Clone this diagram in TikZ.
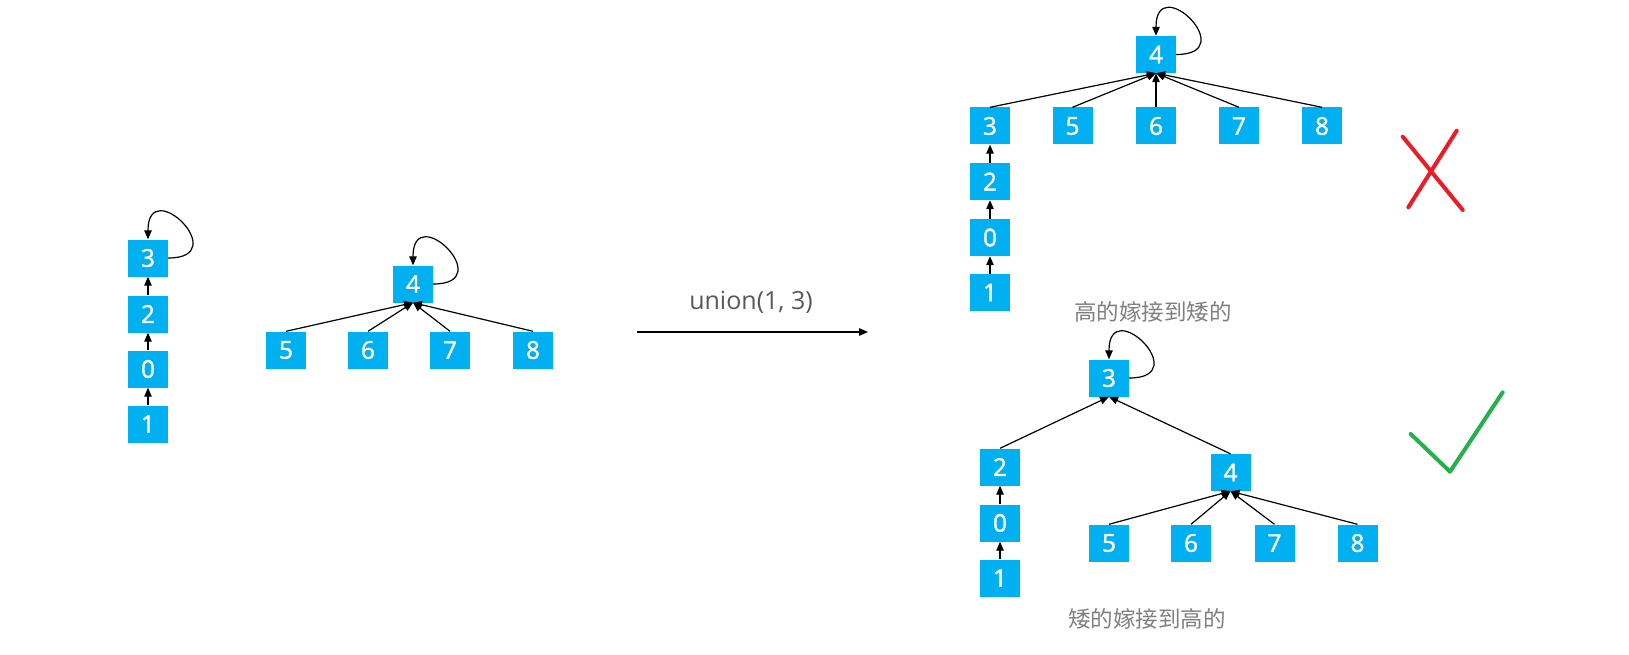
\documentclass[tikz,border=0pt]{standalone}
\usepackage{fontspec}
\setmainfont{Noto Sans CJK SC}
\newfontfamily\digitfont[FakeBold=1.5]{Open Sans}
\newfontfamily\unionfont{Open Sans}
\usetikzlibrary{arrows.meta}
\definecolor{boxblue}{HTML}{00B0F0}
\definecolor{unioncol}{HTML}{595959}
\definecolor{lblcol}{HTML}{7F7F7F}
\definecolor{xred}{HTML}{ED1C24}
\definecolor{okgreen}{HTML}{22B14C}
\newcommand\myloop[1]{\draw[edge] (#1.east) .. controls +(66,0) and +(0,-66) .. (#1.north);}
\begin{document}
\begin{tikzpicture}[x=1pt,y=-1pt,
  nbox/.style={fill=boxblue, text=white, minimum width=40pt, minimum height=37pt, inner sep=0pt, font=\digitfont\fontsize{24.5}{28}\selectfont},
  edge/.style={line width=1.2pt, -{Triangle[length=9pt,width=7.5pt]}},
  lbl/.style={text=lblcol, inner sep=0pt, font=\fontsize{22.5}{26}\selectfont},
  ulbl/.style={text=unioncol, inner sep=0pt, font=\unionfont\fontsize{25}{29}\selectfont},
  markline/.style={line width=4pt, line cap=round, line join=round}]
\useasboundingbox (0,0) rectangle (1629,655);
% left chain
\node[nbox] (l3) at (148,258) {3};
\node[nbox] (l2) at (148,314) {2};
\node[nbox] (l0) at (148,369) {0};
\node[nbox] (l1) at (148,424) {1};
\draw[edge] (l2.north) -- (l3.south);
\draw[edge] (l0.north) -- (l2.south);
\draw[edge] (l1.north) -- (l0.south);
\myloop{l3}
% left tree 4
\node[nbox] (l4) at (413,284) {4};
\node[nbox] (l5) at (286,350) {5};
\node[nbox] (l6) at (368,350) {6};
\node[nbox] (l7) at (450,350) {7};
\node[nbox] (l8) at (533,350) {8};
\foreach \c in {l5,l6,l7,l8} \draw[edge] (\c.north) -- (l4.south);
\myloop{l4}
% union arrow
\node[ulbl] (u) at (751,302) {union(1, 3)};
\coordinate (as) at (637,332);
\coordinate (ae) at (868,332);
\draw[edge] (as) -- (ae);
% top right result
\node[nbox] (a4) at (1156,54.5) {4};
\node[nbox] (a3) at (990,126) {3};
\node[nbox] (a5) at (1072.5,126) {5};
\node[nbox] (a6) at (1156,126) {6};
\node[nbox] (a7) at (1239,126) {7};
\node[nbox] (a8) at (1322,126) {8};
\node[nbox] (a2) at (990,181.5) {2};
\node[nbox] (a0) at (990,237.5) {0};
\node[nbox] (a1) at (990,292.5) {1};
\foreach \c in {a3,a5,a6,a7,a8} \draw[edge] (\c.north) -- (a4.south);
\draw[edge] (a2.north) -- (a3.south);
\draw[edge] (a0.north) -- (a2.south);
\draw[edge] (a1.north) -- (a0.south);
\myloop{a4}
\node[lbl] (t1) at (1153,312) {高的嫁接到矮的};
% bottom right result
\node[nbox] (b3) at (1109,378) {3};
\node[nbox] (b2) at (1000,467) {2};
\node[nbox] (b0) at (1000,523) {0};
\node[nbox] (b1) at (1000,578) {1};
\node[nbox] (b4) at (1230.5,472.5) {4};
\node[nbox] (b5) at (1109,543) {5};
\node[nbox] (b6) at (1191,543) {6};
\node[nbox] (b7) at (1274.5,543) {7};
\node[nbox] (b8) at (1357.5,543) {8};
\draw[edge] (b2.north) -- (b3.south);
\draw[edge] (b4.north) -- (b3.south);
\draw[edge] (b0.north) -- (b2.south);
\draw[edge] (b1.north) -- (b0.south);
\foreach \c in {b5,b6,b7,b8} \draw[edge] (\c.north) -- (b4.south);
\myloop{b3}
\node[lbl] (t2) at (1147,619) {矮的嫁接到高的};
% marks
\draw[markline, xred] (1402.7,136.7) -- (1462.7,210);
\draw[markline, xred] (1456.7,130.7) -- (1408.3,207.3);
\draw[markline, okgreen] (1410.7,434) -- (1450,471.7) -- (1502.7,392.3);
\end{tikzpicture}
\end{document}
